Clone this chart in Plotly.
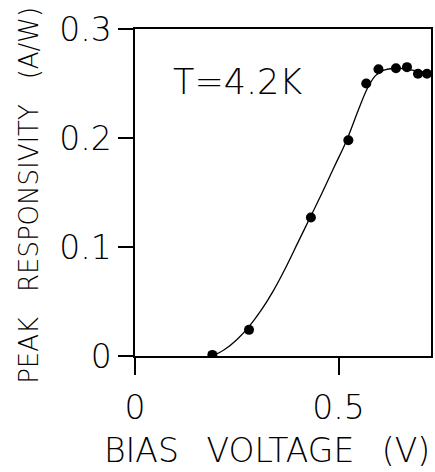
import plotly.graph_objects as go

# measured data points
bias_v = [0.19, 0.28, 0.432, 0.524, 0.568, 0.598, 0.641, 0.668, 0.695, 0.717]
resp = [0.001, 0.024, 0.127, 0.198, 0.250, 0.263, 0.264, 0.265, 0.259, 0.259]

# fitted curve
fit_v = [0.19, 0.22, 0.25, 0.28, 0.31, 0.34, 0.37, 0.40, 0.43, 0.46, 0.49,
         0.52, 0.55, 0.57, 0.59, 0.61, 0.64, 0.67, 0.70, 0.73]
fit_r = [0.0, 0.006, 0.015, 0.027, 0.042, 0.060, 0.081, 0.104, 0.127, 0.150,
         0.174, 0.198, 0.227, 0.245, 0.257, 0.262, 0.264, 0.263, 0.261, 0.260]

x_ticks = [0, 0.5]
x_ticklabels = ["0", "0.5"]
y_ticks = [0, 0.1, 0.2, 0.3]
y_ticklabels = ["0", "0.1", "0.2", "0.3"]

SPX = "\u00a0\u00a0\u2009"
SPY = "\u00a0\u00a0\u00a0"
x_title = "BIAS" + SPX + "VOLTAGE" + SPX + "(V)"
y_title = "PEAK" + SPY + "RESPONSIVITY" + SPY + "(A/W)"
label_text = "T=4.2K"

FONT = "DejaVu Sans"
W = 200

fig = go.Figure()
fig.add_trace(go.Scatter(x=fit_v, y=fit_r, mode="lines",
                         line=dict(color="black", width=1.3, shape="spline"),
                         showlegend=False, hoverinfo="skip"))
fig.add_trace(go.Scatter(x=bias_v, y=resp, mode="markers",
                         marker=dict(color="black", size=10),
                         showlegend=False))

fig.add_annotation(x=0.088, y=0.251, xref="x", yref="y", text=label_text,
                   showarrow=False, xanchor="left", yanchor="middle",
                   font=dict(family=FONT, size=35, color="black", weight=W))
fig.add_annotation(x=0.446, y=-0.2875, xref="paper", yref="paper", text=x_title,
                   showarrow=False, xanchor="center", yanchor="middle",
                   font=dict(family=FONT, size=33, color="black", weight=W))
fig.add_annotation(x=-0.359, y=0.492, xref="paper", yref="paper", text=y_title,
                   showarrow=False, xanchor="center", yanchor="middle", textangle=-90,
                   font=dict(family=FONT, size=26, color="black", weight=W))

fig.update_layout(
    width=435, height=472,
    margin=dict(l=135, r=2, t=29, b=116),
    plot_bgcolor="white", paper_bgcolor="white",
    font=dict(family=FONT, color="black", weight=W),
    xaxis=dict(range=[0, 0.727], tickvals=x_ticks, ticktext=x_ticklabels,
               ticks="outside", ticklen=17, tickwidth=1.5, tickcolor="black",
               showline=True, linecolor="black", linewidth=1.5, mirror=True,
               showgrid=False, zeroline=False,
               tickfont=dict(size=33, family=FONT, weight=W),
               ticklabelstandoff=5),
    yaxis=dict(range=[0, 0.3], tickvals=y_ticks, ticktext=y_ticklabels,
               ticks="outside", ticklen=15, tickwidth=1.5, tickcolor="black",
               showline=True, linecolor="black", linewidth=1.5, mirror=True,
               showgrid=False, zeroline=False,
               tickfont=dict(size=33, family=FONT, weight=W),
               ticklabelstandoff=0),
)

fig.write_html("out.html", config={"displayModeBar": False},
               post_script="document.body.style.margin='0px';document.body.style.overflow='hidden';")
